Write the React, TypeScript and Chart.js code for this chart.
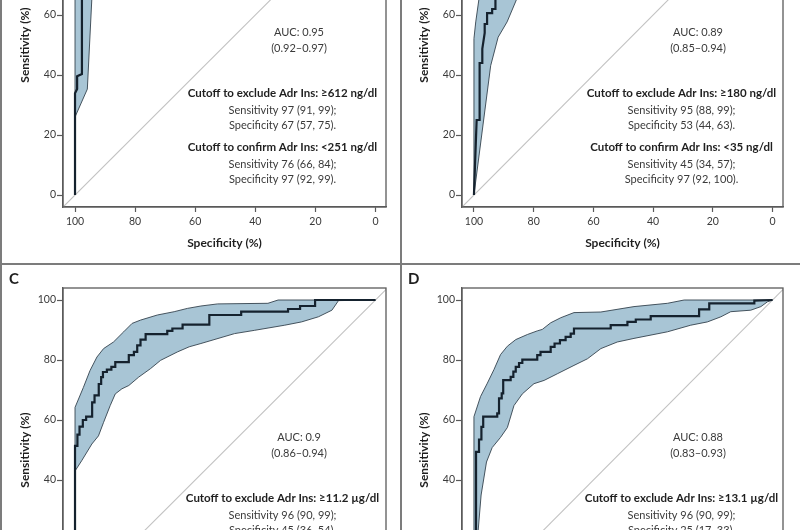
import React, { useEffect, useRef } from 'react';
import { Chart, registerables } from 'chart.js';
Chart.register(...registerables);

// ---------- shared axis values ----------
const tickValues = [0, 20, 40, 60, 80, 100];
const chanceSpec = [104, -4];
const chanceSens = [-4, 104];

// ---------- Panel A ----------
const aCurve = [[100, 0], [100, 33.9], [99.3, 35.3], [99.3, 39.6], [97.7, 40.3], [97.7, 72], [96, 72], [96, 80], [94, 80], [94, 86], [90, 86], [90, 90], [80, 90], [80, 95], [60, 95], [60, 98], [30, 98], [30, 100], [0, 100]];
const aUpper = [[100, 26], [100, 80], [98, 88], [95, 92], [88, 95], [70, 97.5], [40, 99], [0, 100]];
const aLower = [[100, 26], [95.9, 35.3], [94.4, 65.5], [92, 75], [88, 82], [80, 88], [65, 93], [45, 96], [25, 98.5], [0, 100]];
const aText = ['AUC: 0.95', '(0.92\u20130.97)', 'Cutoff to exclude Adr Ins: \u2265612 ng/dl', 'Sensitivity 97 (91, 99);', 'Specificity 67 (57, 75).', 'Cutoff to confirm Adr Ins: <251 ng/dl', 'Sensitivity 76 (66, 84);', 'Specificity 97 (92, 99).'];

// ---------- Panel B ----------
const bCurve = [[100, 0], [99.1, 25], [98.1, 25], [98.1, 44], [97.2, 44], [97.2, 48.7], [96.4, 54], [96.4, 57], [95.6, 57], [95.6, 60.6], [93.9, 60.6], [93.9, 62], [92.8, 62], [92.8, 70], [90, 70], [90, 78], [85, 78], [85, 85], [75, 85], [75, 90], [60, 90], [60, 95], [40, 95], [40, 98], [20, 98], [20, 100], [0, 100]];
const bUpper = [[100, 0], [100, 52.1], [99.4, 57.7], [98.3, 65.5], [96, 75], [93, 82], [88, 88], [80, 92], [70, 95], [55, 97], [40, 98.5], [20, 99.5], [0, 100]];
const bLower = [[100, 0], [94.4, 43.1], [91.9, 52.6], [88.9, 57.7], [85.6, 65.5], [80, 72], [70, 78], [60, 83], [45, 88], [30, 92], [15, 96], [5, 98.5], [0, 100]];
const bText = ['AUC: 0.89', '(0.85\u20130.94)', 'Cutoff to exclude Adr Ins: \u2265180 ng/dl', 'Sensitivity 95 (88, 99);', 'Specificity 53 (44, 63).', 'Cutoff to confirm Adr Ins: <35 ng/dl', 'Sensitivity 45 (34, 57);', 'Specificity 97 (92, 100).'];

// ---------- Panel C ----------
const cCurve = [[100, 0], [100, 51.4], [99.2, 51.4], [99.2, 55.1], [98.5, 55.1], [98.5, 57.8], [97.4, 57.8], [97.4, 60], [96.3, 60], [96.3, 61.1], [94.3, 61.1], [94.3, 65.9], [93.5, 65.9], [93.5, 68.2], [92.1, 68.2], [92.1, 72], [91.3, 72], [91.3, 74.3], [90.7, 74.3], [90.7, 76], [89.4, 76], [89.4, 76.8], [87.9, 76.8], [87.9, 77.7], [86.6, 77.7], [86.6, 79.3], [82.1, 79.3], [82.1, 81.6], [80.4, 81.6], [80.4, 82.7], [79.3, 82.7], [79.3, 84.9], [78.2, 84.9], [78.2, 86.8], [76.5, 86.8], [76.5, 88.6], [69.3, 88.6], [69.3, 89.7], [67.6, 89.7], [67.6, 90.5], [64.2, 90.5], [64.2, 91.8], [55.3, 91.8], [55.3, 95], [44.7, 95], [44.7, 96.1], [29.1, 96.1], [29.1, 97], [25.1, 97], [25.1, 98], [20.1, 98], [20.1, 100], [0, 100]];
const cUpper = [[100, 43], [100, 64.2], [97.2, 70.9], [95, 76.5], [92.7, 81], [90.5, 83.8], [87.2, 86], [83.8, 89.4], [81, 92.2], [78.2, 93.3], [72.6, 95], [67, 96.1], [62.6, 97.2], [58.1, 98], [52.5, 98.7], [35.8, 98.9], [32.4, 100], [0, 100]];
const cLower = [[100, 43], [97.8, 46.4], [94.4, 52], [92.2, 54.7], [90.5, 59.2], [88.3, 64.8], [86.6, 68.7], [84.4, 70.4], [82.1, 71.5], [78.8, 74.3], [74.9, 77.1], [71.5, 79.9], [65.9, 82.7], [62, 84.4], [58.1, 85.5], [46.9, 88.8], [40.2, 89.9], [30.2, 91.6], [24.6, 92.7], [19, 94.4], [14.5, 96.6], [12.3, 99.8], [0, 100]];
const cText = ['AUC: 0.9', '(0.86\u20130.94)', 'Cutoff to exclude Adr Ins: \u226511.2 \u00b5g/dl', 'Sensitivity 96 (90, 99);', 'Specificity 45 (36, 54).'];

// ---------- Panel D ----------
const dCurve = [[99.3, 0], [99.3, 49.4], [98.3, 49.4], [98.3, 53.5], [97.5, 53.5], [97.5, 57.7], [96.9, 57.7], [96.9, 61.1], [92.2, 61.1], [92.2, 62.2], [91.6, 62.2], [91.6, 67.2], [90.7, 67.2], [90.7, 68.9], [90.2, 68.9], [90.2, 73.3], [87.7, 73.3], [87.7, 74.4], [86.8, 74.4], [86.8, 76.1], [86, 76.1], [86, 77.7], [84.9, 77.7], [84.9, 79], [83.8, 79], [83.8, 80.1], [78.8, 80.1], [78.8, 81.6], [77.7, 81.6], [77.7, 82.7], [74.3, 82.7], [74.3, 84.4], [73, 84.4], [73, 85.5], [71.2, 85.5], [71.2, 86.6], [69.3, 86.6], [69.3, 87.7], [67.6, 87.7], [67.6, 88.8], [66.5, 88.8], [66.5, 90.5], [54.2, 90.5], [54.2, 91.6], [48.6, 91.6], [48.6, 92.7], [45.8, 92.7], [45.8, 93.5], [40.8, 93.5], [40.8, 94.6], [24.6, 94.6], [24.6, 96.9], [21.2, 96.9], [21.2, 98.9], [6.1, 98.9], [6.1, 99.8], [0, 100]];
const dUpper = [[100, 0], [100, 61.1], [97.8, 67.8], [95.5, 72.3], [93.3, 76.8], [91.1, 81.8], [88.8, 84.6], [86, 86.8], [82.1, 88.5], [78.8, 89.7], [77.1, 90.2], [74.3, 92.4], [70.9, 94.1], [66.5, 95.8], [57.5, 96], [46.4, 97.8], [35.2, 98.9], [29.6, 100], [0, 100]];
const dLower = [[99.5, 0], [98.6, 23], [97.6, 35], [95.8, 46], [93.9, 50.8], [91.1, 54.2], [88.8, 57.5], [86.6, 64.8], [83.8, 68.7], [79.9, 72.1], [76.5, 73.2], [72.1, 75.4], [66.5, 78.2], [62, 80.4], [57.5, 83.8], [52, 86], [46.4, 87.2], [35.2, 89.4], [27.4, 91.6], [21.8, 92.7], [17.3, 94.4], [14, 96.1], [7.3, 96.6], [3.9, 97.8], [1.7, 99.4], [0, 100]];
const dText = ['AUC: 0.88', '(0.83\u20130.93)', 'Cutoff to exclude Adr Ins: \u226513.1 \u00b5g/dl', 'Sensitivity 96 (90, 99);', 'Specificity 25 (17, 33).'];

// ---------- styles ----------
const FONT = 'Lato, "Open Sans", sans-serif';
const AXIS = '#5a5a5a';
const BAND = '#a8c5d5';
const BAND_EDGE = '#34434e';
const CURVE = '#15222e';
const TEXT = '#3a3a3a';
const BOLD = '#1f1f1f';

const toPts = (arr: number[][]) => arr.map(([x, y]) => ({ x, y }));

type PanelProps = {
  label: string; left: number; top: number; padRight: number;
  curve: number[][]; upper: number[][]; lower: number[][]; text: string[];
};

function Panel({ label, left, top, padRight, curve, upper, lower, text }: PanelProps) {
  const ref = useRef<HTMLCanvasElement>(null);
  useEffect(() => {
    const band = upper.concat(lower.slice().reverse());
    const frame = {
      id: 'frame' + label,
      afterDatasetsDraw(chart: any) {
        const { ctx, chartArea: a } = chart;
        ctx.save();
        ctx.strokeStyle = AXIS;
        ctx.lineWidth = 1.3;
        ctx.strokeRect(a.left, a.top, a.right - a.left, a.bottom - a.top);
        ctx.restore();
      },
    };
    const notes = {
      id: 'notes' + label,
      afterDraw(chart: any) {
        const { ctx, chartArea: a } = chart;
        ctx.save();
        ctx.textAlign = 'center';
        ctx.textBaseline = 'middle';
        const reg = `11px ${FONT}`;
        const bold = `bold 11.5px ${FONT}`;
        const xa = a.left + 236;
        const xc = a.left + 219.5;
        const rows: [string, number, number, boolean][] = [];
        rows.push([text[0], xa, -175, false]);
        rows.push([text[1], xa, -159, false]);
        rows.push([text[2], xc, -114, true]);
        rows.push([text[3], xc, -96.5, false]);
        rows.push([text[4], xc, -81.5, false]);
        if (text.length > 5) {
          rows.push([text[5], xc, -60, true]);
          rows.push([text[6], xc, -43, false]);
          rows.push([text[7], xc, -28, false]);
        }
        rows.forEach(([t, x, dy, b]) => {
          ctx.font = b ? bold : reg;
          ctx.fillStyle = b ? BOLD : TEXT;
          ctx.fillText(t, x, a.bottom + dy);
        });
        ctx.font = `bold 15px ${FONT}`;
        ctx.fillStyle = BOLD;
        ctx.textAlign = 'left';
        ctx.fillText(label, 9, 15);
        ctx.restore();
      },
    };
    const chart = new Chart(ref.current as HTMLCanvasElement, {
      type: 'scatter',
      data: {
        datasets: [
          { data: toPts(curve), showLine: true, borderColor: CURVE, borderWidth: 2.2, pointRadius: 0, order: 0 } as any,
          { data: toPts(band), showLine: true, fill: 'shape', backgroundColor: BAND, borderColor: BAND_EDGE, borderWidth: 0.9, pointRadius: 0, order: 1 } as any,
          { data: chanceSpec.map((x, i) => ({ x, y: chanceSens[i] })), showLine: true, borderColor: '#c2c2c2', borderWidth: 1.2, pointRadius: 0, order: 2 } as any,
        ],
      },
      options: {
        responsive: false,
        animation: false,
        devicePixelRatio: 1,
        events: [],
        layout: { padding: { top: 24, right: padRight, bottom: 0, left: 0 } },
        plugins: { legend: { display: false }, tooltip: { enabled: false } },
        scales: {
          x: {
            type: 'linear', min: -3.5, max: 104, reverse: true,
            afterBuildTicks: (s: any) => { s.ticks = tickValues.map((v) => ({ value: v })); },
            afterFit: (s: any) => { s.height = 57; },
            grid: { drawOnChartArea: false, drawTicks: true, tickLength: 5, tickColor: AXIS, tickWidth: 1.2 },
            border: { display: true, color: AXIS, width: 1.3 },
            ticks: { color: TEXT, font: { family: FONT, size: 10.5 }, padding: 3, maxRotation: 0, autoSkip: false },
            title: { display: true, text: 'Specificity (%)', color: BOLD, font: { family: FONT, size: 12, weight: 'bold' }, padding: { top: 0, bottom: 13.8 } },
          },
          y: {
            type: 'linear', min: -4, max: 104,
            afterBuildTicks: (s: any) => { s.ticks = tickValues.map((v) => ({ value: v })); },
            afterFit: (s: any) => { s.width = 63; },
            grid: { drawOnChartArea: false, drawTicks: true, tickLength: 6, tickColor: AXIS, tickWidth: 1.2 },
            border: { display: true, color: AXIS, width: 1.3 },
            ticks: { color: TEXT, font: { family: FONT, size: 10.5 }, padding: 1, autoSkip: false },
            title: { display: true, text: 'Sensitivity (%)', color: BOLD, font: { family: FONT, size: 12, weight: 'bold' }, padding: { top: 17.8, bottom: 0 } },
          },
        },
      } as any,
      plugins: [frame, notes],
    });
    return () => chart.destroy();
  }, []);
  return (
    <canvas ref={ref} width={400} height={405}
      style={{ position: 'absolute', left, top, width: 400, height: 405 }} />
  );
}

export default function App() {
  const line = '#7c7c7c';
  return (
    <div style={{ position: 'fixed', left: 0, top: 0, width: 800, height: 530, overflow: 'hidden', background: '#fff' }}>
      <Panel label="A" left={0} top={-141} padRight={14} curve={aCurve} upper={aUpper} lower={aLower} text={aText} />
      <Panel label="B" left={399} top={-141} padRight={16} curve={bCurve} upper={bUpper} lower={bLower} text={bText} />
      <Panel label="C" left={0} top={264} padRight={14} curve={cCurve} upper={cUpper} lower={cLower} text={cText} />
      <Panel label="D" left={399} top={264} padRight={16} curve={dCurve} upper={dUpper} lower={dLower} text={dText} />
      <div style={{ position: 'absolute', left: 0, top: 263, width: 800, height: 2, background: line }} />
      <div style={{ position: 'absolute', left: 400, top: 0, width: 2, height: 530, background: line }} />
      <div style={{ position: 'absolute', left: 0, top: 0, width: 2, height: 530, background: line }} />
    </div>
  );
}
